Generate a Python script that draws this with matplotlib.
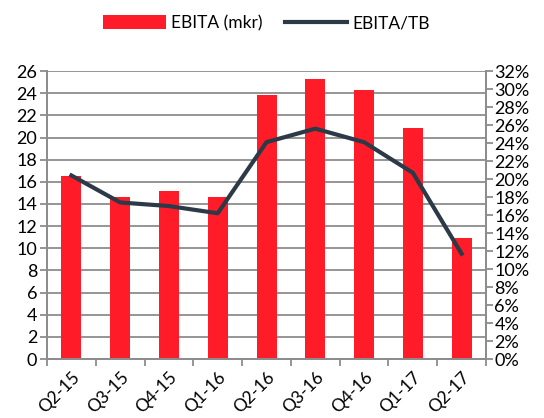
import matplotlib
matplotlib.use("Agg")
import matplotlib.pyplot as plt
from matplotlib import ticker
from matplotlib.lines import Line2D
from matplotlib.patches import Patch
import numpy as np

quarters = ["Q2-15", "Q3-15", "Q4-15", "Q1-16", "Q2-16", "Q3-16", "Q4-16", "Q1-17", "Q2-17"]
ebita_mkr = [16.5, 14.6, 15.2, 14.6, 23.8, 25.3, 24.3, 20.9, 10.9]
ebita_tb = [20.4, 17.4, 17.0, 16.2, 24.1, 25.6, 24.1, 20.7, 11.7]

BAR_COLOR = "#ff1c28"
LINE_COLOR = "#2c3a48"
GRID_COLOR = "#8c8c8c"

plt.rcParams["font.family"] = ["Lato", "DejaVu Sans"]

fig = plt.figure(figsize=(5.44, 4.18), dpi=100)
ax1 = fig.add_axes([0.0864, 0.141, 0.807, 0.689])
ax2 = ax1.twinx()

x = np.arange(len(quarters))
ax1.bar(x, ebita_mkr, width=0.41, color=BAR_COLOR, zorder=2)
ax2.plot(x, ebita_tb, color=LINE_COLOR, linewidth=3, zorder=3)

ax1.set_xlim(-0.5, len(quarters) - 0.5)
ax1.set_ylim(0, 26)
ax1.set_yticks(range(0, 27, 2))
ax2.set_ylim(0, 32)
ax2.set_yticks(range(0, 33, 2))
ax2.yaxis.set_major_formatter(ticker.FuncFormatter(lambda v, _: f"{int(v)}%"))

ax1.grid(axis="y", color=GRID_COLOR, linewidth=1.3, zorder=0)
ax1.set_axisbelow(True)

# Category ticks sit between the bars
ax1.set_xticks(np.arange(-0.5, len(quarters), 1.0))
ax1.set_xticklabels([])
ax1.set_xticks(x, minor=True)
ax1.set_xticklabels(quarters, minor=True, rotation=45, ha="right", va="top",
                    rotation_mode="anchor", fontsize=12.5)
ax1.tick_params(axis="x", which="minor", length=0, pad=7)
ax1.tick_params(axis="x", which="major", length=5, color=GRID_COLOR, width=1.3)

ax1.tick_params(axis="y", length=5, color=GRID_COLOR, width=1.3, labelsize=13, pad=2)
ax2.tick_params(axis="y", length=5, color=GRID_COLOR, width=1.3, labelsize=13, pad=1)

for ax in (ax1, ax2):
    for side in ("left", "right", "bottom", "top"):
        ax.spines[side].set_color(GRID_COLOR)
        ax.spines[side].set_linewidth(1.3)
    ax.spines["top"].set_visible(False)

handles = [
    Patch(facecolor=BAR_COLOR, label="EBITA (mkr)"),
    Line2D([0], [0], color=LINE_COLOR, linewidth=3, label="EBITA/TB"),
]
fig.legend(handles=handles, loc="center", bbox_to_anchor=(0.49, 0.945), ncol=2,
           frameon=False, fontsize=12.5, handlelength=3.6, handleheight=0.8,
           handletextpad=0.3, columnspacing=1.3)

fig.savefig("out.png", dpi=100)
